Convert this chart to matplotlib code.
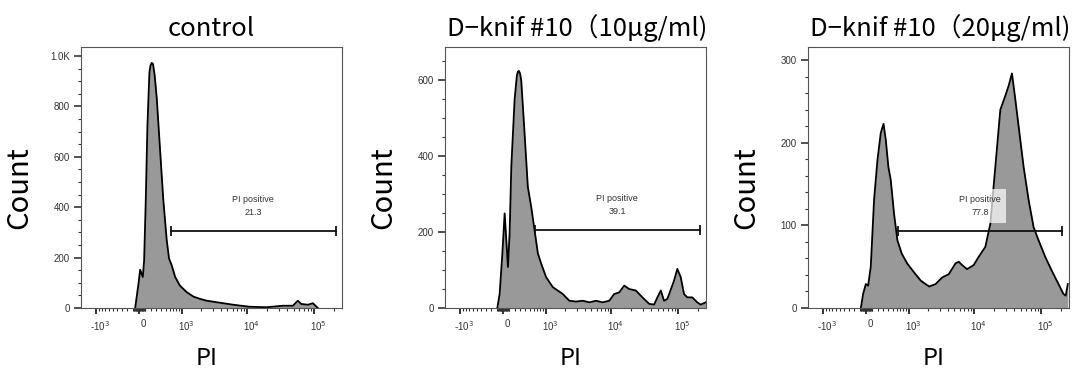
import numpy as np
import matplotlib
matplotlib.use("Agg")
import matplotlib.pyplot as plt
import matplotlib.transforms as mtransforms
from matplotlib.ticker import FixedLocator, FixedFormatter, MultipleLocator

plt.rcParams['font.family'] = ['Noto Sans CJK JP', 'DejaVu Sans']

titles = ["control", "D−knif #10（10μg/ml)", "D−knif #10（20μg/ml)"]

# PI intensity vs. event count
ctrl_pi = [-66, -11, 17, 61, 83, 111, 139, 174, 192, 215, 239, 269, 311, 377, 448,
           529, 588, 661, 762, 919, 1190, 1530, 1940, 2435, 3440, 6130, 10730, 19300,
           34240, 48240, 57250, 64280, 80870, 96060, 114100]
ctrl_count = [0, 96, 152, 123, 189, 429, 723, 936, 962, 973, 968, 925, 830, 629, 429,
              269, 196, 169, 123, 89, 63, 45, 36, 29, 23, 13, 5, 3,
              9, 9, 29, 16, 13, 19, 0]

d10_pi = [-97, -58, -13, 25, 53, 80, 108, 137, 195, 236, 255, 274, 297, 320, 388,
          460, 541, 628, 724, 831, 1003, 1287, 1843, 2333, 2947, 3710, 4680, 5895,
          7400, 9326, 11080, 13140, 15600, 18530, 23330, 29280, 36860, 43780, 49060,
          55100, 61780, 69170, 87070, 97540, 109700, 122800, 137600, 163200, 193900,
          217900, 261000]
d10_count = [0, 37, 143, 249, 178, 108, 196, 372, 549, 612, 622, 624, 617, 598, 460,
             319, 266, 205, 143, 116, 81, 55, 37, 19, 17, 19, 15, 19,
             15, 19, 37, 41, 59, 50, 46, 28, 11, 9, 28,
             46, 19, 24, 72, 103, 81, 37, 28, 28, 15,
             9, 15]

d20_pi = [-88, -50, -5, 33, 77, 133, 192, 253, 305, 350, 405, 458, 537, 624, 747,
          930, 1210, 1548, 2080, 2620, 3290, 4140, 5220, 5850, 6560, 7790, 9800,
          11640, 14640, 17390, 20660, 24550, 29160, 32690, 36670, 41110, 46120,
          54780, 65060, 77270, 91770, 115400, 145100, 182400, 216400, 234500, 251500]
d20_count = [0, 17, 29, 27, 50, 131, 179, 212, 223, 204, 171, 155, 114, 82, 66,
             54, 43, 33, 26, 29, 37, 41, 54, 56, 52, 47, 52,
             62, 74, 102, 171, 240, 257, 269, 284, 253, 220,
             171, 131, 98, 82, 62, 45, 29, 17, 15, 29]

gate_lo = [634, 628, 640]
gate_hi = [210000, 211000, 204500]
gate_y = [305, 205, 93]
gate_pct = ["21.3", "39.1", "77.8"]

y_max = [1036, 687, 316]
y_major = [200, 200, 100]
y_minor = [50, 50, 20]

C = 480.0


def fwd(x):
    return np.arcsinh(np.asarray(x, dtype=float) / C)


def inv(y):
    return C * np.sinh(np.asarray(y, dtype=float))


fig = plt.figure(figsize=(10.8, 3.69), dpi=100)
lefts = [81, 445, 808]

series = [(ctrl_pi, ctrl_count), (d10_pi, d10_count), (d20_pi, d20_count)]

xmaj = [-1000, 0, 1000, 10000, 100000]
xlab = ["-10$^3$", "0", "10$^3$", "10$^4$", "10$^5$"]
xmin = [-m * 100 for m in range(1, 10)] + [-m * 10 for m in range(1, 10)] + \
       [m * 10 for m in range(1, 10)] + [m * 100 for m in range(1, 10)] + \
       [m * 1000 for m in range(2, 10)] + [m * 10000 for m in range(2, 10)] + [200000]

shift = mtransforms.ScaledTranslation(4 / 100, 0, fig.dpi_scale_trans)

for i in range(3):
    ax = fig.add_axes([lefts[i] / 1080, 1 - 308 / 369, 261 / 1080, 261 / 369])
    ax.set_xscale('function', functions=(fwd, inv))
    pi, cnt = series[i]
    ax.fill_between(pi, cnt, 0, color='#999999', lw=0)
    ax.plot(pi, cnt, color='black', lw=1.3)
    ax.set_xlim(-1750, 262144)
    ax.set_ylim(0, y_max[i])

    ax.xaxis.set_major_locator(FixedLocator(xmaj))
    ax.xaxis.set_major_formatter(FixedFormatter(xlab))
    ax.xaxis.set_minor_locator(FixedLocator(xmin))
    ax.yaxis.set_major_locator(MultipleLocator(y_major[i]))
    ax.yaxis.set_minor_locator(MultipleLocator(y_minor[i]))
    if i == 0:
        ax.set_yticks([0, 200, 400, 600, 800, 1000])
        ax.set_yticklabels(["0", "200", "400", "600", "800", "1.0K"])

    ax.tick_params(axis='both', which='major', labelsize=7, colors='#333333',
                   direction='out')
    ax.tick_params(axis='x', which='major', length=4, width=1.4, pad=4)
    ax.tick_params(axis='x', which='minor', length=2.5, width=0.8, color='#333333')
    ax.tick_params(axis='y', which='major', length=5, width=1.2, pad=3)
    ax.tick_params(axis='y', which='minor', length=2.5, width=0.8, color='#333333')
    for lab in ax.get_xticklabels() + ax.get_yticklabels():
        lab.set_family(['Liberation Sans', 'DejaVu Sans'])
    for lab in ax.get_xticklabels():
        lab.set_transform(lab.get_transform() + shift)
    for s in ax.spines.values():
        s.set_color('#555555')
        s.set_linewidth(0.8)

    ax.set_title(titles[i], fontsize=18.5, pad=8, x=0.5 if i == 0 else 0.505)
    ax.set_ylabel("Count", fontsize=21)
    ax.yaxis.set_label_coords(-0.178, 0.46)
    ax.set_xlabel("PI", fontsize=17, va='baseline')
    ax.xaxis.set_label_coords(0.48, -0.218)

    # gate bar
    ax.plot([gate_lo[i], gate_hi[i]], [gate_y[i], gate_y[i]], color='#111111', lw=1.3)
    ax.plot([gate_lo[i], gate_hi[i]], [gate_y[i], gate_y[i]], ls='none', marker='|',
            markersize=7, mew=1.3, color='#111111')
    xm = inv((fwd(gate_lo[i]) + fwd(gate_hi[i])) / 2)
    ax.annotate("PI positive\n" + gate_pct[i], (xm, gate_y[i]), xytext=(0, 18),
                textcoords='offset points', ha='center', va='center',
                fontsize=6.5, color='#333333', linespacing=1.6,
                family=['Liberation Sans', 'DejaVu Sans'],
                bbox=dict(facecolor='white', alpha=0.7, edgecolor='none', pad=4))

fig.savefig("out.png", dpi=100)
